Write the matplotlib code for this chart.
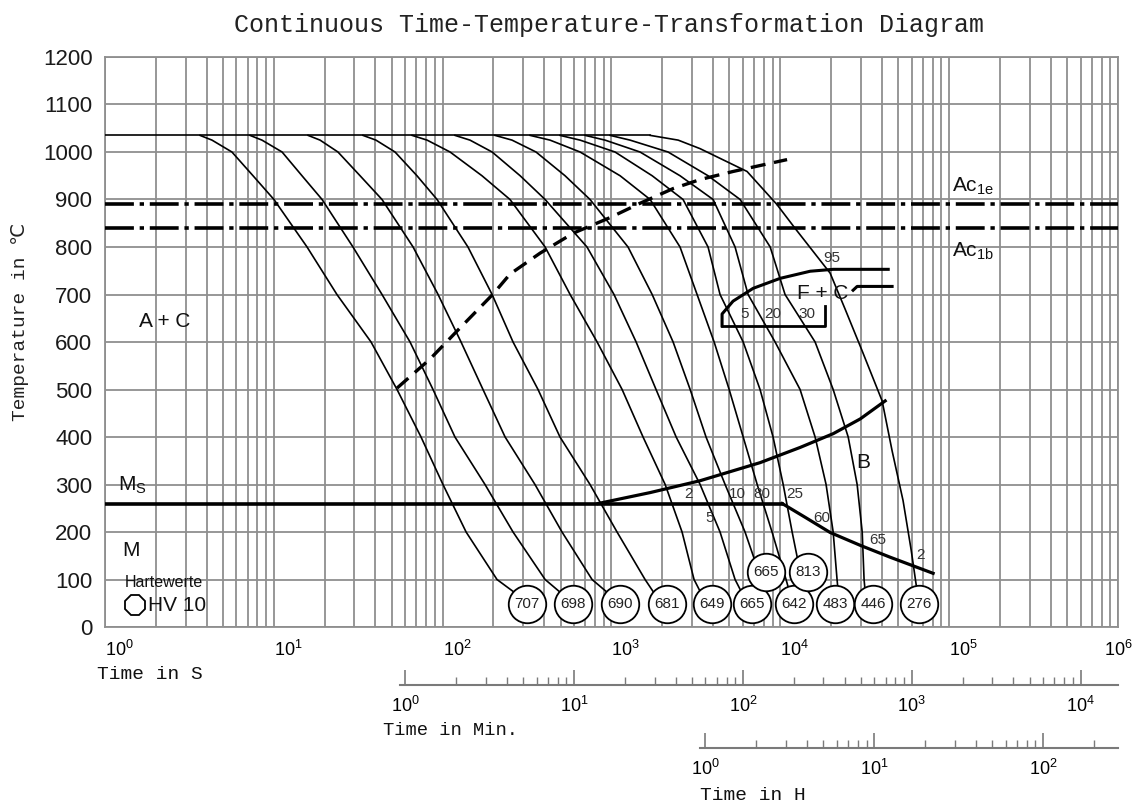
import numpy as np
import matplotlib
matplotlib.use("Agg")
from matplotlib import pyplot as plt
from matplotlib.ticker import FixedLocator, NullFormatter

plt.rcParams['font.family'] = ['Liberation Sans', 'DejaVu Sans']
plt.rcParams['mathtext.fontset'] = 'custom'
plt.rcParams['mathtext.rm'] = 'Liberation Sans'
plt.rcParams['mathtext.it'] = 'Liberation Sans:italic'
plt.rcParams['mathtext.bf'] = 'Liberation Sans:bold'

# --- data (time as log10 of seconds, temperature in degC) ---
# temperature levels at which the cooling curves were read
levels = [1035, 1025, 1000, 950, 900, 800, 700, 600, 500, 400, 300, 200, 100]

lg_707 = [0.563, 0.634, 0.752, 0.877, 1.001, 1.197, 1.374, 1.576, 1.730, 1.872, 2.002, 2.139, 2.322, 2.417]
lg_698 = [0.859, 0.930, 1.049, 1.167, 1.286, 1.469, 1.641, 1.807, 1.943, 2.073, 2.251, 2.417, 2.607, 2.690]
lg_690 = [1.203, 1.274, 1.380, 1.511, 1.641, 1.825, 1.973, 2.109, 2.239, 2.370, 2.547, 2.707, 2.885, 2.968]
lg_681 = [1.528, 1.605, 1.718, 1.848, 1.967, 2.150, 2.293, 2.417, 2.565, 2.695, 2.873, 3.033, 3.199, 3.246]
lg_649 = [1.819, 1.908, 2.044, 2.233, 2.399, 2.607, 2.755, 2.915, 3.063, 3.187, 3.318, 3.418, 3.489, 3.525]
lg_665a = [2.073, 2.162, 2.293, 2.459, 2.607, 2.855, 3.015, 3.146, 3.264, 3.383, 3.525, 3.643, 3.732, 3.768]
lg_665b = [2.310, 2.411, 2.553, 2.725, 2.873, 3.098, 3.241, 3.365, 3.466, 3.560, 3.673, 3.791, 3.851]
lg_642 = [2.518, 2.636, 2.814, 3.051, 3.229, 3.406, 3.507, 3.608, 3.697, 3.780, 3.863, 3.951, 4.034, 4.052]
lg_813 = [2.695, 2.814, 3.021, 3.241, 3.424, 3.572, 3.643, 3.780, 3.880, 3.957, 4.017, 4.070, 4.100]
lg_483 = [2.844, 2.962, 3.169, 3.406, 3.602, 3.732, 3.809, 3.969, 4.117, 4.206, 4.271, 4.313, 4.336, 4.342]
lg_446 = [2.992, 3.110, 3.335, 3.572, 3.762, 3.940, 4.028, 4.206, 4.313, 4.402, 4.455, 4.485, 4.496, 4.502]
end_temps = [75, 75, 75, 75, 75, 75, 138, 77, 147, 77, 77]

# slowest curve (276 HV) read at its own temperatures
lg_276 = [3.229, 3.395, 3.525, 3.803, 3.981, 4.088, 4.295, 4.384, 4.485, 4.603, 4.662, 4.727, 4.775, 4.805]
T_276 = [1035, 1025, 1007, 959, 889, 839, 745, 669, 581, 476, 371, 266, 162, 88]

hold_temp = 1035
ac1e = 890
ac1b = 840
ms_temp = 260
ms_end_lg = 4.011

# dashed line
dash_lg = [1.730, 1.925, 2.085, 2.299, 2.399, 2.577, 2.773, 2.992, 3.169, 3.365, 3.525, 3.720, 4.040]
dash_T = [503, 564, 623, 701, 743, 787, 829, 862, 892, 923, 942, 959, 984]

# bainite start
bs_lg = [2.921, 3.229, 3.525, 3.880, 4.117, 4.313, 4.473, 4.621]
bs_T = [260, 283, 308, 346, 378, 407, 438, 476]

# lower line below Ms
low_lg = [4.011, 4.147, 4.295, 4.473, 4.650, 4.905]
low_T = [260, 231, 199, 172, 147, 113]

# ferrite + carbide field
fc_lg = [3.655, 3.655, 3.720, 3.839, 3.999, 4.177, 4.313, 4.639]
fc_T = [634, 659, 686, 713, 734, 749, 753, 753]
fc_bottom_lg = [4.265, 4.265, 3.655]
fc_bottom_T = [676, 634, 634]
fc_end_lg = [4.431, 4.455, 4.662]
fc_end_T = [709, 717, 717]

# hardness values HV 10
hv_labels = ['707', '698', '690', '681', '649', '665', '665', '642', '813', '483', '446', '276']
hv_lg = [2.500, 2.773, 3.051, 3.329, 3.596, 3.833, 3.916, 4.082, 4.165, 4.325, 4.550, 4.822]
hv_T = [48, 48, 48, 48, 48, 48, 115, 48, 115, 48, 48, 48]

curves = [lg_707, lg_698, lg_690, lg_681, lg_649, lg_665a, lg_665b, lg_642, lg_813, lg_483, lg_446]

grid_col = '#8f8f8f'

fig = plt.figure(figsize=(11.37, 8.05), dpi=100)
ax = fig.add_axes([0.0923, 0.2211, 0.891, 0.7081])
ax.set_xscale('log')
ax.set_xlim(1, 1e6)
ax.set_ylim(0, 1200)
ax.set_yticks(np.arange(0, 1201, 100))
ax.xaxis.set_major_locator(FixedLocator(10.0 ** np.arange(7)))
minor_s = [k * 10.0 ** e for e in range(6) for k in range(2, 10)]
ax.xaxis.set_minor_locator(FixedLocator(minor_s))
ax.xaxis.set_minor_formatter(NullFormatter())
ax.set_xticklabels([r'$\mathregular{10^{%d}}$' % e for e in range(7)])
xlabs = ax.get_xticklabels()
for lab in xlabs[:-1]:
    lab.set_horizontalalignment('left')
xlabs[-1].set_horizontalalignment('center')
ax.tick_params(which='both', length=0)
ax.tick_params(axis='x', labelsize=13, pad=9)
ax.tick_params(axis='y', labelsize=16, pad=9, labelcolor='#1a1a1a')
ax.grid(True, which='both', color=grid_col, lw=1.3)
ax.set_axisbelow(True)
for s in ax.spines.values():
    s.set_color(grid_col)
    s.set_linewidth(1.3)

# cooling curves
for lg, te in zip(curves, end_temps):
    T = levels[:len(lg) - 1] + [te]
    ax.plot(10.0 ** np.array(lg), T, color='k', lw=1.2, zorder=3, solid_joinstyle='round')
ax.plot(10.0 ** np.array(lg_276), T_276, color='k', lw=1.2, zorder=3, solid_joinstyle='round')

# holding line, Ac lines, Ms
ax.plot([1, 10 ** lg_276[0]], [hold_temp, hold_temp], color='k', lw=1.2, zorder=3)
for tt in (ac1e, ac1b):
    ax.plot([1, 1e6], [tt, tt], color='k', lw=2.6, ls=(0, (8, 1.6, 1.2, 1.6)), zorder=3)
ax.plot([1, 10 ** ms_end_lg], [ms_temp, ms_temp], color='k', lw=2.6, zorder=3)

ax.plot(10.0 ** np.array(dash_lg), dash_T, color='k', lw=2.4, ls=(0, (4.5, 2.6)), zorder=3)
ax.plot(10.0 ** np.array(bs_lg), bs_T, color='k', lw=2.3, zorder=3)
ax.plot(10.0 ** np.array(low_lg), low_T, color='k', lw=2.3, zorder=3)
ax.plot(10.0 ** np.array(fc_lg), fc_T, color='k', lw=2.2, zorder=3)
ax.plot(10.0 ** np.array(fc_bottom_lg), fc_bottom_T, color='k', lw=2.0, zorder=3)
ax.plot(10.0 ** np.array(fc_end_lg), fc_end_T, color='k', lw=2.2, zorder=3)

# hardness circles
ax.plot(10.0 ** np.array(hv_lg), hv_T, ls='none', marker='o', ms=27, mfc='white',
        mec='k', mew=1.3, zorder=5)
for lab, lg, tt in zip(hv_labels, hv_lg, hv_T):
    ax.text(10 ** lg, tt, lab, ha='center', va='center', fontsize=11, color='#222', zorder=6)

# labels inside the diagram
big = dict(fontsize=15, color='#111', zorder=6)
small = dict(fontsize=11, color='#333', ha='center', va='center', zorder=6)
ax.text(2.27, 644, 'A + C', ha='center', va='center', **big)
ax.text(1.19, 298, r'M$_\mathregular{S}$', ha='left', va='center', **big)
ax.text(1.26, 162, 'M', ha='left', va='center', **big)
ax.text(1.31, 94, 'Hartewerte', ha='left', va='center', fontsize=11.5, color='#111')
ax.plot([1.51], [46], ls='none', marker='8', ms=16, mfc='white', mec='k', mew=1.3, zorder=5)
ax.text(1.80, 46, 'HV 10', ha='left', va='center', **big)
ax.text(30970, 346, 'B', ha='center', va='center', **big)
ax.text(17700, 703, 'F + C', ha='center', va='center', **big)
ax.text(104000, 927, r'Ac$_\mathregular{1e}$', ha='left', va='center', **big)
ax.text(104000, 791, r'Ac$_\mathregular{1b}$', ha='left', va='center', **big)
for txt, t, tt in [('95', 20280, 776), ('5', 6180, 659), ('20', 9060, 659), ('30', 14420, 659),
                   ('2', 2844, 281), ('5', 3837, 229), ('10', 5546, 281), ('80', 7800, 281),
                   ('25', 12240, 281), ('60', 17700, 229), ('65', 37930, 183), ('2', 67300, 151)]:
    ax.text(t, tt, txt, **small)

# extra time scales (minutes, hours)
def time_axis(bottom, factor, exps):
    a = fig.add_axes([0.0923, bottom, 0.891, 0.03])
    a.set_xscale('log')
    a.set_xlim(1 / factor, 1e6 / factor)
    a.patch.set_alpha(0)
    for s in ['top', 'left', 'right']:
        a.spines[s].set_visible(False)
    a.spines['bottom'].set_bounds(0.93, 1e6 / factor)
    a.spines['bottom'].set_color('#7a7a7a')
    a.spines['bottom'].set_linewidth(1.5)
    a.set_yticks([])
    a.xaxis.set_major_locator(FixedLocator(10.0 ** np.array(exps)))
    mn = [k * 10.0 ** e for e in range(exps[-1] + 1) for k in range(2, 10) if k * 10.0 ** e < 1e6 / factor]
    a.xaxis.set_minor_locator(FixedLocator(mn))
    a.xaxis.set_minor_formatter(NullFormatter())
    a.set_xticklabels([r'$\mathregular{10^{%d}}$' % e for e in exps])
    a.tick_params(axis='x', which='major', direction='in', length=11, width=1.2, color='#7a7a7a',
                  pad=8, labelsize=13)
    a.tick_params(axis='x', which='minor', direction='in', length=6, width=1.0, color='#7a7a7a')
    return a

time_axis(0.149, 60.0, [0, 1, 2, 3, 4])
time_axis(0.0708, 3600.0, [0, 1, 2])

mono = ['Liberation Mono', 'DejaVu Sans Mono', 'DejaVu Sans']
fig.text(0.536, 0.969, 'Continuous Time-Temperature-Transformation Diagram', ha='center', va='center',
         fontsize=18, family=mono, color='#222')
fig.text(0.0176, 0.60, 'Temperature in ℃', rotation=90, ha='center', va='center', fontsize=14,
         family=mono + ['Noto Sans CJK SC'], color='#222')
fig.text(0.0853, 0.1615, 'Time in S', ha='left', va='center', fontsize=14, family=mono, color='#111')
fig.text(0.337, 0.093, 'Time in Min.', ha='left', va='center', fontsize=13.5, family=mono, color='#111')
fig.text(0.616, 0.0124, 'Time in H', ha='left', va='center', fontsize=14, family=mono, color='#111')

fig.savefig('out.png', dpi=100)
